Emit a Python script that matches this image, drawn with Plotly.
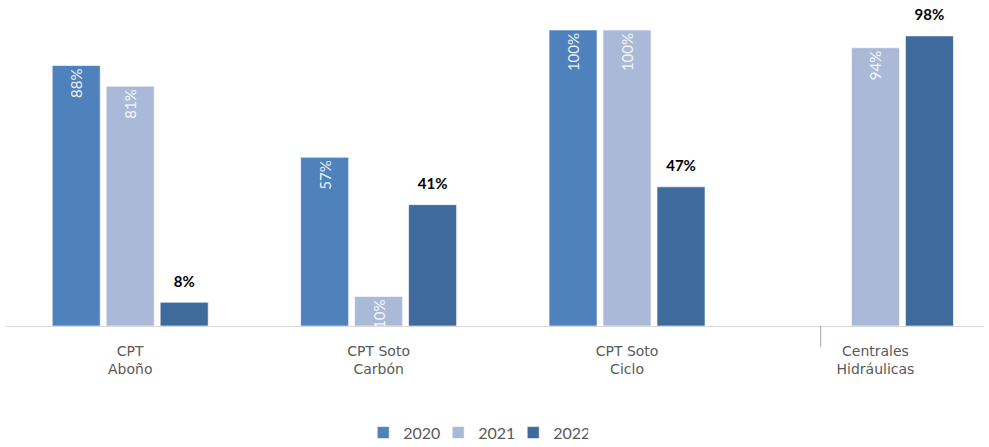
import plotly.graph_objects as go

categories = ["CPT<br>Aboño", "CPT Soto<br>Carbón", "CPT Soto<br>Ciclo", "Centrales<br>Hidráulicas"]
years = ["2020", "2021", "2022"]
v2020 = [88, 57, 100, None]
v2021 = [81, 10, 100, 94]
v2022 = [8, 41, 47, 98]
colors = ["#4F81BD", "#AAB9D8", "#3E6A9C"]

FONT = "Lato, 'Open Sans', sans-serif"
GREY = "#595959"

fig = go.Figure()
for name, vals, col in zip(years, [v2020, v2021, v2022], colors):
    inside = name != "2022"
    fig.add_trace(go.Bar(
        name=name, x=categories, y=vals,
        marker=dict(color=col, line=dict(color="rgba(255,255,255,0.6)", width=1)),
        texttemplate="%{y}%" if inside else
        "<span style='font-size:15px'>%{y}%</span><br>&nbsp;",
        textposition="inside" if inside else "outside",
        textangle=-90 if inside else 0,
        insidetextanchor="end",
        constraintext="none",
        cliponaxis=False,
        textfont=dict(family=FONT, size=15 if inside else 8,
                      color="rgba(255,255,255,0.9)" if inside else "#000000",
                      weight="normal" if inside else "bold"),
    ))

fig.update_layout(
    width=989, height=447,
    margin=dict(l=6, r=5, t=6, b=121, autoexpand=False),
    paper_bgcolor="white", plot_bgcolor="white",
    barmode="group", bargap=0.348, bargroupgap=0.111,
    font=dict(family=FONT, color=GREY),
    showlegend=True,
    legend=dict(orientation="h", x=0.481, xanchor="center", xref="container",
                y=0.032, yanchor="middle", yref="container",
                entrywidth=30, entrywidthmode="pixels",
                font=dict(size=16, color=GREY), itemwidth=30, traceorder="normal"),
    xaxis=dict(range=[-0.5, 3.437], showline=True, linecolor="#D9D9D9", linewidth=1,
               ticks="", ticklabelstandoff=12, automargin=False,
               tickfont=dict(family="DejaVu Sans", size=14, color=GREY), showgrid=False),
    yaxis=dict(range=[0, 108.1], visible=False, showgrid=False, automargin=False),
)
fig.add_shape(type="line", xref="paper", yref="paper", x0=0.833, x1=0.833, y0=0, y1=-0.066,
              line=dict(color="#A6A6A6", width=1))

fig.write_html("out.html", config={"displayModeBar": False},
               post_script="document.body.style.margin='0';")
